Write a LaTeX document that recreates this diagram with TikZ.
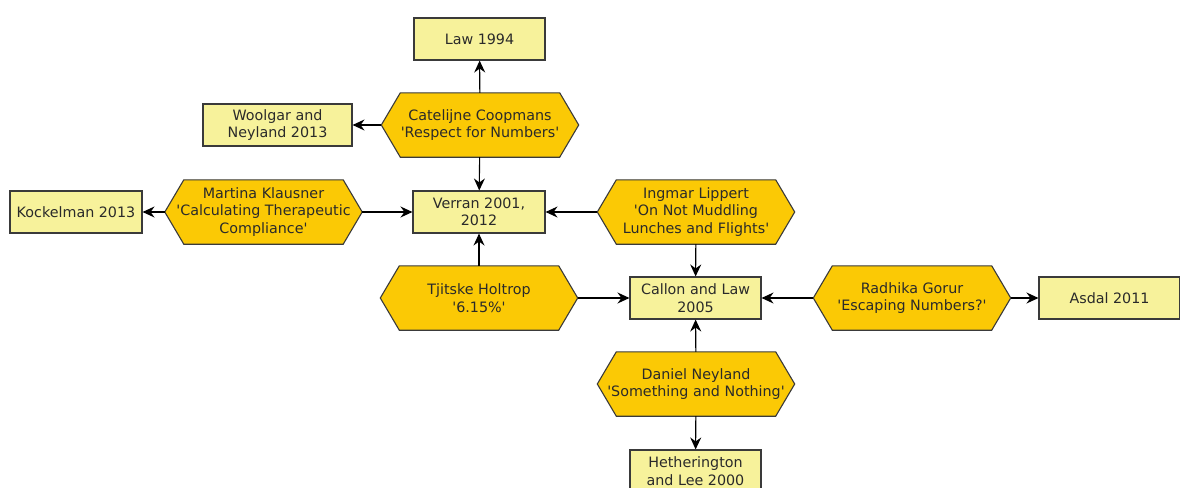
\documentclass[tikz,border=0pt]{standalone}
\usepackage{fontspec}
\setmainfont{DejaVu Sans}
\usetikzlibrary{arrows.meta,backgrounds}
\definecolor{refbox}{HTML}{F7F29B}
\definecolor{hexfill}{HTML}{FBC905}
\definecolor{edgecol}{HTML}{3A3A3A}
\definecolor{txtcol}{HTML}{2A2A2A}
\newcommand\ap{\textquotesingle}
\tikzset{
  base/.style={text=txtcol, align=center, inner sep=0pt,
    font=\fontsize{14.3}{17.5}\selectfont},
  refnode/.style={base, draw=edgecol, line width=1.1pt, rectangle, fill=refbox, minimum height=42pt},
  hexnode/.style={base, rectangle, minimum width=197pt, minimum height=64pt},
  hexshape/.style={draw=edgecol, line width=1.1pt, fill=hexfill, line join=miter},
  link/.style={draw=black, line width=1.1pt, -{Stealth[length=12pt,width=11pt,inset=4pt]}}
}
\begin{document}
\begin{tikzpicture}[x=1pt,y=-1pt]
\useasboundingbox (0,0) rectangle (1180,487);
\clip (0,0) rectangle (1180,487);
% hexagons (text holders)
\node[hexnode] (cat) at (480,125) {Catelijne Coopmans\\\ap Respect for Numbers\ap};
\node[hexnode] (mar) at (263.5,212) {Martina Klausner\\\ap Calculating Therapeutic\\Compliance\ap};
\node[hexnode] (ing) at (696,212) {Ingmar Lippert\\\ap On Not Muddling\\Lunches and Flights\ap};
\node[hexnode] (tji) at (479,298) {Tjitske Holtrop\\\ap 6.15\%\ap};
\node[hexnode] (rad) at (912,298) {Radhika Gorur\\\ap Escaping Numbers?\ap};
\node[hexnode] (dan) at (696,384) {Daniel Neyland\\\ap Something and Nothing\ap};
\begin{scope}[on background layer]
\foreach \n in {cat,mar,ing,tji,rad,dan}
  \draw[hexshape] (\n.west) -- ([xshift=19pt]\n.north west) -- ([xshift=-19pt]\n.north east)
    -- (\n.east) -- ([xshift=-19pt]\n.south east) -- ([xshift=19pt]\n.south west) -- cycle;
\end{scope}
% references
\node[refnode, minimum width=131pt] (law) at (479.5,39) {Law 1994};
\node[refnode, minimum width=149pt] (woo) at (277.5,125) {Woolgar and\\Neyland 2013};
\node[refnode, minimum width=132pt] (ver) at (479,212) {Verran 2001,\\2012};
\node[refnode, minimum width=132pt] (koc) at (76,212) {Kockelman 2013};
\node[refnode, minimum width=131pt] (cal) at (695.5,298) {Callon and Law\\2005};
\node[refnode, minimum width=141pt] (asd) at (1109.5,298) {Asdal 2011};
\node[refnode, minimum width=131pt] (het) at (695.5,471) {Hetherington\\and Lee 2000};
% connectors
\draw[link] (cat) -- (law);
\draw[link] (cat) -- (woo);
\draw[link] (cat) -- (ver);
\draw[link] (mar) -- (koc);
\draw[link] (mar) -- (ver);
\draw[link] (ing) -- (ver);
\draw[link] (ing) -- (cal);
\draw[link] (tji) -- (ver);
\draw[link] (tji) -- (cal);
\draw[link] (rad) -- (cal);
\draw[link] (rad) -- (asd);
\draw[link] (dan) -- (cal);
\draw[link] (dan) -- (het);
\end{tikzpicture}
\end{document}
